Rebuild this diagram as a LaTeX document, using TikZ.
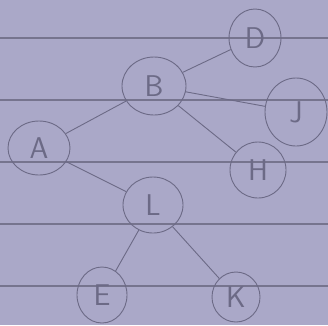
\documentclass[tikz,border=0pt]{standalone}
\usetikzlibrary{shapes.geometric}
\definecolor{paper}{RGB}{170,168,200}
\definecolor{rule}{RGB}{118,116,142}
\definecolor{pencil}{RGB}{108,106,134}
\begin{document}
\begin{tikzpicture}[x=1pt,y=-1pt,
  vtx/.style={draw=pencil,line width=0.9pt,ellipse,inner sep=0pt,text=pencil,
    font=\fontsize{30}{30}\selectfont\sffamily},
  edge/.style={draw=pencil,line width=0.9pt},
  ruleline/.style={draw=rule,line width=1.1pt}]
\fill[paper] (0,0) rectangle (328,325);
\useasboundingbox (0,0) rectangle (328,325);
\foreach \yy in {38,100,162,224,286} \draw[ruleline] (0,\yy) -- (328,\yy);
\node[vtx,minimum width=52pt,minimum height=58pt] (D) at (255,38) {D};
\node[vtx,minimum width=64pt,minimum height=58pt] (B) at (154,86) {B};
\node[vtx,minimum width=62pt,minimum height=68pt] (J) at (296,112) {J};
\node[vtx,minimum width=62pt,minimum height=54pt] (A) at (39,148) {A};
\node[vtx,minimum width=56pt,minimum height=56pt] (H) at (258,170) {H};
\node[vtx,minimum width=60pt,minimum height=56pt] (L) at (153,205) {L};
\node[vtx,minimum width=50pt,minimum height=56pt] (E) at (102,295) {E};
\node[vtx,minimum width=48pt,minimum height=50pt] (K) at (236,297) {K};
\draw[edge] (B) -- (D);
\draw[edge] (B) -- (J);
\draw[edge] (B) -- (H);
\draw[edge] (A) -- (B);
\draw[edge] (A) -- (L);
\draw[edge] (L) -- (E);
\draw[edge] (L) -- (K);
\end{tikzpicture}
\end{document}
